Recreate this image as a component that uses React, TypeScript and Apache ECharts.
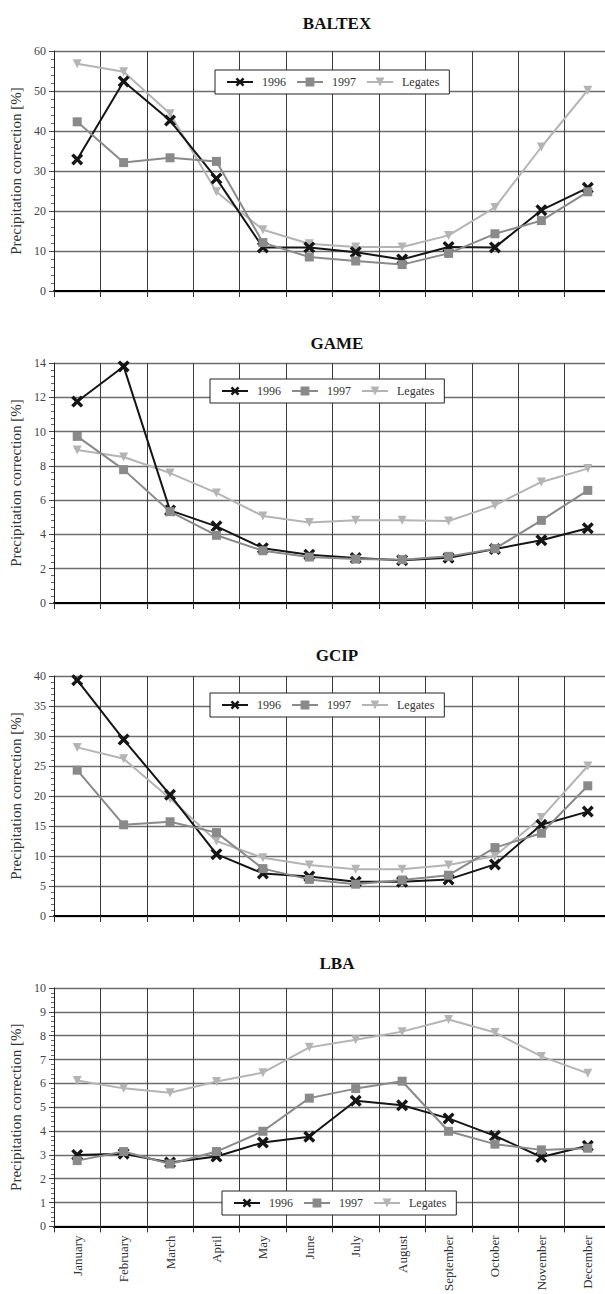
import React, { useEffect, useRef } from "react";
import * as echarts from "echarts";

const months = ["January", "February", "March", "April", "May", "June", "July", "August", "September", "October", "November", "December"];
const seriesNames = ["1996", "1997", "Legates"];
const panelTitles = ["BALTEX", "GAME", "GCIP", "LBA"];

const baltex1996 = [32.9, 52.4, 42.6, 28.1, 10.9, 10.9, 9.7, 7.9, 11.0, 10.9, 20.2, 25.8];
const baltex1997 = [42.3, 32.1, 33.3, 32.4, 12.1, 8.5, 7.5, 6.6, 9.4, 14.3, 17.6, 24.8];
const baltexLegates = [56.8, 54.8, 44.3, 24.8, 15.3, 11.8, 11.0, 11.0, 13.9, 20.9, 36.0, 50.2];

const game1996 = [11.75, 13.8, 5.4, 4.47, 3.2, 2.82, 2.62, 2.5, 2.64, 3.15, 3.66, 4.36];
const game1997 = [9.72, 7.78, 5.33, 3.95, 3.05, 2.68, 2.56, 2.53, 2.72, 3.17, 4.82, 6.57];
const gameLegates = [8.92, 8.52, 7.58, 6.42, 5.08, 4.69, 4.82, 4.82, 4.78, 5.7, 7.06, 7.84];

const gcip1996 = [39.3, 29.4, 20.2, 10.3, 7.1, 6.6, 5.7, 5.7, 6.1, 8.6, 15.2, 17.4];
const gcip1997 = [24.3, 15.2, 15.7, 13.9, 7.9, 6.1, 5.3, 6.0, 6.8, 11.4, 13.8, 21.7];
const gcipLegates = [28.1, 26.2, 19.6, 12.5, 9.7, 8.5, 7.8, 7.8, 8.5, 10.0, 16.4, 25.0];

const lba1996 = [3.0, 3.05, 2.68, 2.93, 3.52, 3.76, 5.27, 5.08, 4.53, 3.8, 2.91, 3.38];
const lba1997 = [2.76, 3.14, 2.62, 3.14, 3.99, 5.38, 5.78, 6.09, 3.99, 3.45, 3.21, 3.28];
const lbaLegates = [6.12, 5.79, 5.61, 6.08, 6.45, 7.51, 7.83, 8.17, 8.68, 8.13, 7.13, 6.42];

const yMax = [60, 14, 40, 10];
const yInterval = [10, 2, 5, 1];

const panelData = [
  [baltex1996, baltex1997, baltexLegates],
  [game1996, game1997, gameLegates],
  [gcip1996, gcip1997, gcipLegates],
  [lba1996, lba1997, lbaLegates],
];

const gridTops = [51, 363, 676, 988];
const gridHeights = [240, 240, 240, 241];
const titleTops = [10, 330, 642, 950];
const legendPos = [
  { left: 215, top: 70 },
  { left: 210, top: 379 },
  { left: 210, top: 693 },
  { left: 222, top: 1191 },
];

const SERIF = "Liberation Serif";
const crossPath = "path://M2,0 L5,3 L8,0 L10,2 L7,5 L10,8 L8,10 L5,7 L2,10 L0,8 L3,5 L0,2 Z";
const trianglePath = "path://M0,0 L10,0 L5,8.5 Z";

const styles = [
  { color: "#151515", symbol: crossPath, size: 12, z: 3 },
  { color: "#8a8a8a", symbol: "rect", size: 9, z: 4 },
  { color: "#b4b4b4", symbol: trianglePath, size: 9, z: 2 },
];

export default function App() {
  const ref = useRef<HTMLDivElement>(null);

  useEffect(() => {
    if (!ref.current) return;
    const chart = echarts.init(ref.current, undefined, { renderer: "svg" });

    const grids = gridTops.map((t, i) => ({ left: 53, right: 0, top: t, height: gridHeights[i] }));

    const xAxes = gridTops.map((_, i) => ({
      type: "category",
      gridIndex: i,
      data: months,
      boundaryGap: true,
      axisLine: { show: true, lineStyle: { color: "#000", width: 2 } },
      axisTick: { show: true, length: 6, lineStyle: { color: "#333", width: 1 } },
      axisLabel: {
        show: i === 3,
        rotate: 90,
        interval: 0,
        margin: 9,
        fontFamily: SERIF,
        fontSize: 13,
        color: "#333",
      },
      splitLine: { show: true, interval: 0, lineStyle: { color: "#3c3c3c", width: 1 } },
    }));

    const yAxes = gridTops.map((_, i) => ({
      type: "value",
      gridIndex: i,
      min: 0,
      max: yMax[i],
      interval: yInterval[i],
      name: "Precipitation correction [%]",
      nameLocation: "middle",
      nameGap: 31,
      nameTextStyle: { fontFamily: SERIF, fontSize: 15, color: "#333" },
      axisLine: { show: true, lineStyle: { color: "#222", width: 1 } },
      axisTick: { show: true, length: 5, lineStyle: { color: "#444" } },
      minorTick: { show: true, splitNumber: 5, length: 3, lineStyle: { color: "#666" } },
      axisLabel: { fontFamily: SERIF, fontSize: 12, color: "#444", margin: 8 },
      splitLine: { show: true, lineStyle: { color: "#6e6e6e", width: 1.4 } },
    }));

    const series: any[] = [];
    panelData.forEach((arrs, p) => {
      arrs.forEach((vals, s) => {
        const st = styles[s];
        series.push({
          type: "line",
          name: seriesNames[s],
          xAxisIndex: p,
          yAxisIndex: p,
          data: vals,
          z: st.z,
          symbol: st.symbol,
          symbolSize: st.size,
          showAllSymbol: true,
          lineStyle: { color: st.color, width: 2 },
          itemStyle: { color: st.color },
        });
      });
    });

    const legends = legendPos.map((lp) => ({
      left: lp.left,
      top: lp.top,
      orient: "horizontal",
      data: seriesNames,
      backgroundColor: "#fff",
      borderColor: "#222",
      borderWidth: 1,
      padding: [6, 10, 6, 11],
      itemWidth: 26,
      itemHeight: 11,
      itemGap: 10,
      selectedMode: false,
      textStyle: { fontFamily: SERIF, fontSize: 12, color: "#333", padding: [0, 0, 0, 4] },
    }));

    const titles = panelTitles.map((t, i) => ({
      text: t,
      left: 332,
      textAlign: "center",
      top: titleTops[i],
      textStyle: { fontFamily: SERIF, fontSize: 17, fontWeight: "bold", color: "#111" },
    }));

    chart.setOption({
      animation: false,
      backgroundColor: "#fff",
      title: titles,
      legend: legends,
      grid: grids,
      xAxis: xAxes,
      yAxis: yAxes,
      series,
    });

    return () => chart.dispose();
  }, []);

  return (
    <div style={{ position: "absolute", left: 0, top: 0, width: 605, height: 1294, overflow: "hidden", background: "#fff" }}>
      <div ref={ref} style={{ width: 611, height: 1294 }} />
    </div>
  );
}
